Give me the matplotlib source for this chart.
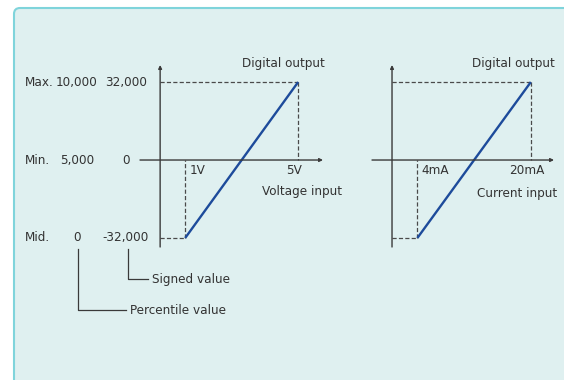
import matplotlib
matplotlib.use("Agg")
import matplotlib.pyplot as plt
from matplotlib.patches import FancyBboxPatch
from matplotlib.lines import Line2D
from matplotlib.transforms import IdentityTransform, blended_transform_factory

plt.rcParams['font.family'] = ['DejaVu Sans']
plt.rcParams['font.stretch'] = 'condensed'
plt.rcParams['lines.scale_dashes'] = False

# Output range (digital value)
out_max = 32000
out_zero = 0
out_min = -32000

# Left-hand scale labels
row_names = ["Max.", "Min.", "Mid."]
percentile_labels = ["10,000", "5,000", "0"]
signed_labels = ["32,000", "0", "-32,000"]
row_values = [out_max, out_zero, out_min]

# Voltage input (V) and current input (mA)
volt_range = [1, 5]
volt_labels = ["1V", "5V"]
curr_range = [4, 20]
curr_labels = ["4mA", "20mA"]

W, H = 564, 380
fig = plt.figure(figsize=(W / 100, H / 100), dpi=100)
fig.patch.set_facecolor("white")

TXT = "#333333"
AXC = "#3a3a3a"
BLUE = "#1d4b9b"
FS = 9.6


def fx(px):
    return px / W


def fy(py):
    return 1 - py / H


# light panel with rounded top-left corner
panel = FancyBboxPatch((14, -30), 700, 30 + H - 8,
                       boxstyle="round,pad=0,rounding_size=6",
                       transform=IdentityTransform(),
                       facecolor="#dff0f0", edgecolor="#7fd4db", linewidth=1.5,
                       zorder=-5)
fig.patches.append(panel)


def make_chart(left_px, right_px, xlim, in_range, in_labels):
    ax = fig.add_axes([fx(left_px), fy(247), fx(right_px - left_px), (247 - 65) / H])
    ax.set_xlim(*xlim)
    ax.set_ylim(-35700, 39000)
    ax.axis("off")
    ax.patch.set_alpha(0)

    x0, x1 = xlim
    y0, y1 = ax.get_ylim()
    x_axis = x0 + 0.11 * (x1 - x0)

    # axes with small arrowheads
    ax.annotate("", xy=(x1, out_zero), xytext=(x0, out_zero),
                arrowprops=dict(arrowstyle="-|>", lw=1.0, color=AXC,
                                mutation_scale=5, shrinkA=0, shrinkB=0),
                annotation_clip=False)
    ax.annotate("", xy=(x_axis, y1), xytext=(x_axis, y0),
                arrowprops=dict(arrowstyle="-|>", lw=1.0, color=AXC,
                                mutation_scale=5, shrinkA=0, shrinkB=0),
                annotation_clip=False)

    lo, hi = in_range
    dash = dict(color="#4a4a4a", lw=0.9, dashes=(3, 1.6))
    ax.plot([x_axis, hi], [out_max, out_max], **dash)
    ax.plot([hi, hi], [out_max, out_zero], **dash)
    ax.plot([x_axis, lo], [out_min, out_min], **dash)
    ax.plot([lo, lo], [out_min, out_zero], **dash)

    # transfer line
    ax.plot([lo, hi], [out_min, out_max], color=BLUE, lw=1.7,
            solid_capstyle="butt")

    ax.annotate(in_labels[0], xy=(lo, out_zero), xytext=(4, -10),
                textcoords="offset pixels", ha="left", va="center",
                fontsize=FS, color=TXT)
    ax.annotate(in_labels[1], xy=(hi, out_zero), xytext=(-4, -10),
                textcoords="offset pixels", ha="center", va="center",
                fontsize=FS, color=TXT)
    return ax


axL = make_chart(140, 323, (-0.60, 5.88), volt_range, volt_labels)
axR = make_chart(372, 554, (-2.40, 23.27), curr_range, curr_labels)

fig.text(fx(283), fy(63), "Digital output", ha="center", va="center", fontsize=FS, color=TXT)
fig.text(fx(302), fy(191), "Voltage input", ha="center", va="center", fontsize=FS, color=TXT)
fig.text(fx(513), fy(63), "Digital output", ha="center", va="center", fontsize=FS, color=TXT)
fig.text(fx(517), fy(193), "Current input", ha="center", va="center", fontsize=FS, color=TXT)

# row labels at the left of the voltage chart
tr = blended_transform_factory(fig.transFigure, axL.transData)
for name, pct, sgn, v in zip(row_names, percentile_labels, signed_labels, row_values):
    axL.text(fx(25), v, name, transform=tr, ha="left", va="center",
             fontsize=FS, color=TXT, clip_on=False)
    axL.text(fx(77), v, pct, transform=tr, ha="center", va="center",
             fontsize=FS, color=TXT, clip_on=False)
    axL.text(fx(126), v, sgn, transform=tr, ha="center", va="center",
             fontsize=FS, color=TXT, clip_on=False)

# callouts explaining the two numeric columns
for cx, bottom, end, label in [(128, 279, 148, "Signed value"),
                               (78, 310, 126, "Percentile value")]:
    fig.lines.append(Line2D([fx(cx), fx(cx), fx(end)], [fy(249), fy(bottom), fy(bottom)],
                            transform=fig.transFigure, color=AXC, lw=0.9))
    fig.text(fx(end + 4), fy(bottom), label, ha="left", va="center",
             fontsize=FS, color=TXT)

fig.savefig("out.png", dpi=100)
